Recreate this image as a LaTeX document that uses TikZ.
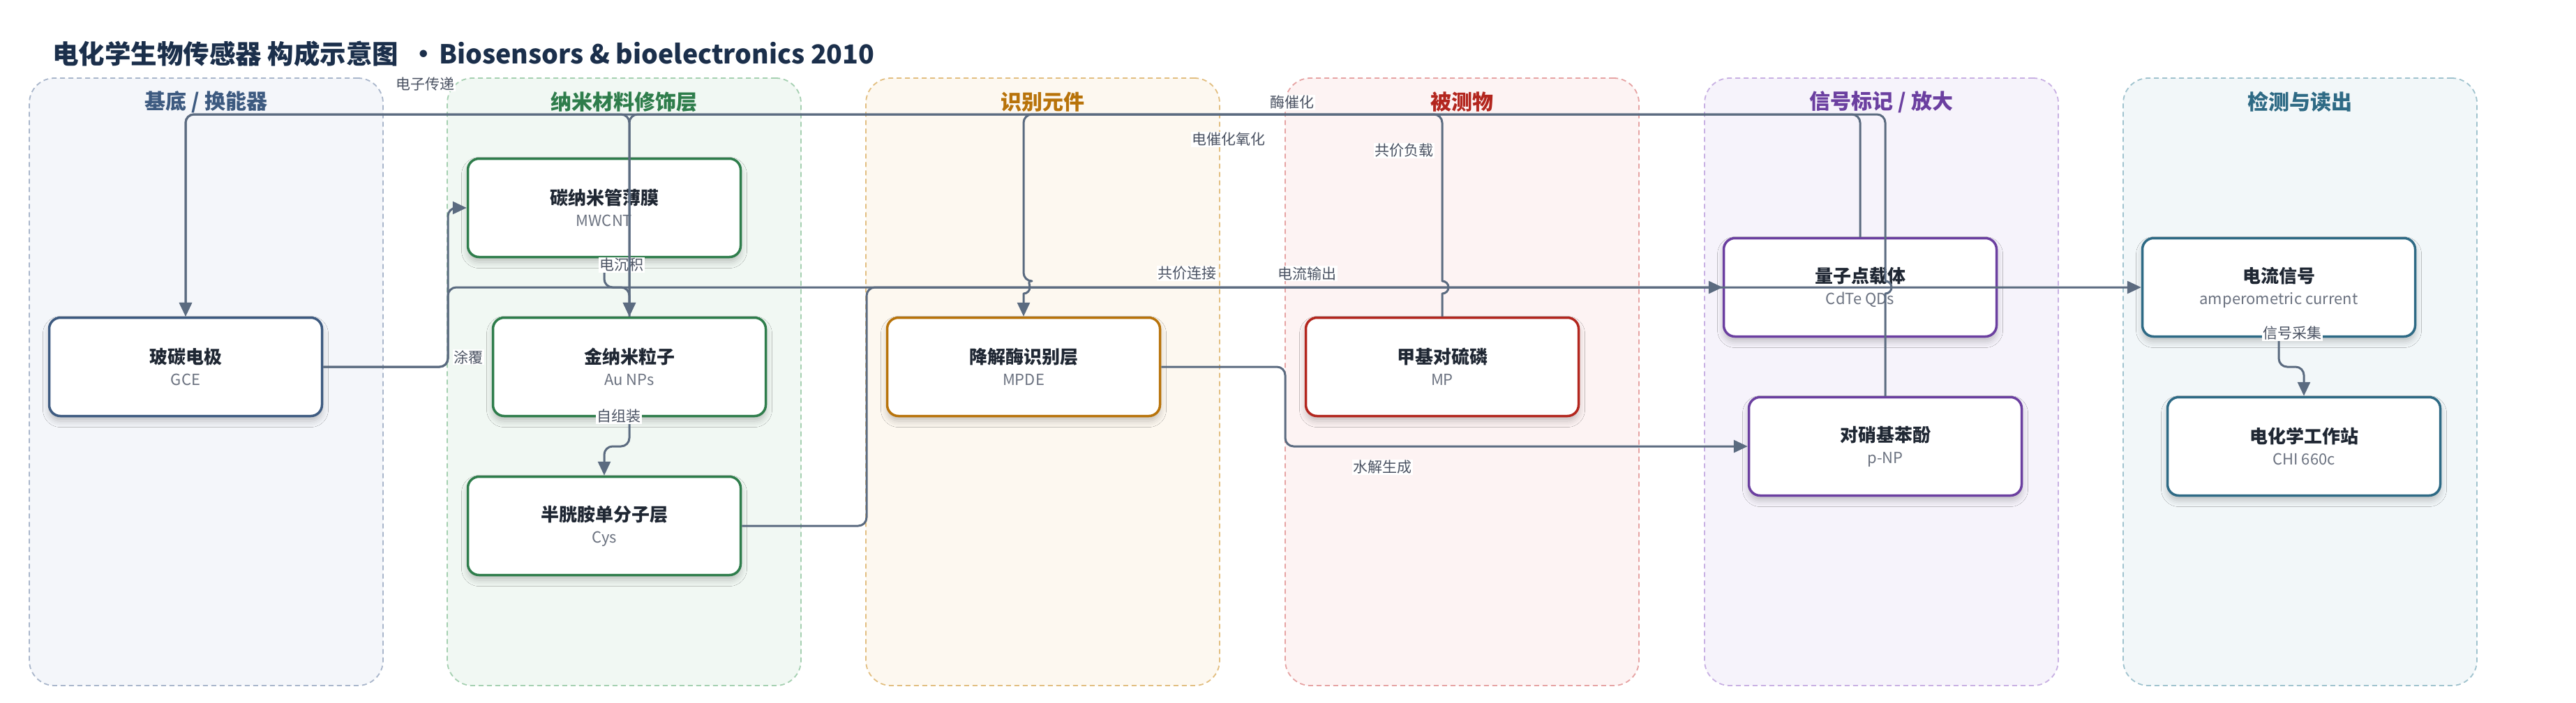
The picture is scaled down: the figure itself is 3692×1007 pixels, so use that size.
\documentclass[tikz,border=0pt]{standalone}
\usepackage{fontspec}
\setmainfont{Noto Sans CJK SC}
\usetikzlibrary{arrows.meta,shadows.blur}
\definecolor{edgec}{HTML}{5B6B80}
\definecolor{titlec}{HTML}{1B2F4B}
\definecolor{ttext}{HTML}{1F2733}
\definecolor{stext}{HTML}{6B7280}
\definecolor{ltext}{HTML}{4A5262}
\definecolor{c1}{HTML}{3D5A80}\definecolor{f1}{HTML}{F4F6FA}\definecolor{b1}{HTML}{A9B6CB}
\definecolor{c2}{HTML}{2E7D4B}\definecolor{f2}{HTML}{F1F8F3}\definecolor{b2}{HTML}{A5D0B1}
\definecolor{c3}{HTML}{B8730A}\definecolor{f3}{HTML}{FDF8F0}\definecolor{b3}{HTML}{E2BE80}
\definecolor{c4}{HTML}{B3261E}\definecolor{f4}{HTML}{FDF3F3}\definecolor{b4}{HTML}{E6A3A3}
\definecolor{c5}{HTML}{6B3FA0}\definecolor{f5}{HTML}{F6F3FB}\definecolor{b5}{HTML}{C8B0E3}
\definecolor{c6}{HTML}{2E6A85}\definecolor{f6}{HTML}{F2F7F9}\definecolor{b6}{HTML}{A0C3CE}
\newcommand\nt[2]{{\fontsize{26}{31}\selectfont\bfseries\color{ttext}#1}\\{\color{stext}#2}}
\begin{document}
\begin{tikzpicture}[x=1pt,y=-1pt,
  lanebox/.style 2 args={draw=#1, fill=#2, dash pattern=on 7pt off 5pt, line width=1.8pt,
    rounded corners=36pt, minimum width=507pt, minimum height=871pt, inner sep=0pt},
  lanetitle/.style={font=\fontsize{30}{30}\selectfont\bfseries, text=#1, inner sep=0pt},
  box/.style={draw=#1, fill=white, line width=3.5pt, rounded corners=16pt,
    minimum width=391pt, minimum height=141pt, align=center, inner sep=0pt,
    font=\fontsize{22}{31}\selectfont,
    blur shadow={shadow xshift=0pt, shadow yshift=-7pt, shadow blur radius=9pt, shadow opacity=22}},
  edge/.style={draw=edgec, line width=3pt, line join=round, -{Triangle[length=20pt,width=18pt]}},
  elabel/.style={fill=white, inner sep=1.5pt, font=\fontsize{21}{21}\selectfont, text=ltext}]
\useasboundingbox (0,0) rectangle (3692,1007);
\fill[white] (0,0) rectangle (3692,1007);

\node[anchor=west, font=\fontsize{37.5}{38}\selectfont\bfseries, text=titlec, inner sep=0pt] (title) at (75,77)
  {电化学生物传感器 构成示意图\hspace{0.45em}•\hspace{0.1em}Biosensors \& bioelectronics 2010};

% lanes
\node[lanebox={b1}{f1}] (lane1) at (295.5,547.5) {};
\node[lanebox={b2}{f2}] (lane2) at (894.5,547.5) {};
\node[lanebox={b3}{f3}] (lane3) at (1494.5,547.5) {};
\node[lanebox={b4}{f4}] (lane4) at (2095.5,547.5) {};
\node[lanebox={b5}{f5}] (lane5) at (2696.5,547.5) {};
\node[lanebox={b6}{f6}] (lane6) at (3296.5,547.5) {};
\node[lanetitle=c1] (lt1) at (295.5,146) {基底 / 换能器};
\node[lanetitle=c2] (lt2) at (894.5,146) {纳米材料修饰层};
\node[lanetitle=c3] (lt3) at (1494.5,146) {识别元件};
\node[lanetitle=c4] (lt4) at (2095.5,146) {被测物};
\node[lanetitle=c5] (lt5) at (2696.5,146) {信号标记 / 放大};
\node[lanetitle=c6] (lt6) at (3296.5,146) {检测与读出};

% nodes
\node[box=c1] (gce) at (266,526) {\nt{玻碳电极}{GCE}};
\node[box=c2] (mwcnt) at (866,298) {\nt{碳纳米管薄膜}{MWCNT}};
\node[box=c2] (aunp) at (902,526) {\nt{金纳米粒子}{Au NPs}};
\node[box=c2] (cys) at (866,754) {\nt{半胱胺单分子层}{Cys}};
\node[box=c3] (mpde) at (1467,526) {\nt{降解酶识别层}{MPDE}};
\node[box=c4] (mp) at (2067,526) {\nt{甲基对硫磷}{MP}};
\node[box=c5] (qd) at (2666,412) {\nt{量子点载体}{CdTe QDs}};
\node[box=c5] (pnp) at (2702,640) {\nt{对硝基苯酚}{p-NP}};
\node[box=c6] (cur) at (3266,412) {\nt{电流信号}{amperometric current}};
\node[box=c6] (chi) at (3302,640) {\nt{电化学工作站}{CHI 660c}};

% short edges
\draw[edge, rounded corners=12pt] (gce.east) -- (642,526) -- (642,298) -- (mwcnt.west);
\draw[edge, rounded corners=12pt] (gce.east) -- (642,526) -- (642,412) -- (cur.west);
\draw[edge, rounded corners=12pt] (mwcnt.south) -- (866,412) -- (902,412) -- (aunp.north);
\draw[edge, rounded corners=12pt] (aunp.south) -- (902,640) -- (866,640) -- (cys.north);
\draw[edge, rounded corners=12pt] (cys.east) -- (1242,754) -- (1242,412) -- (qd.west);
\draw[edge, rounded corners=12pt] (mpde.east) -- (1842,526) -- (1842,640) -- (pnp.west);
\draw[edge, rounded corners=12pt] (cur.south) -- (3266,526) -- (3302,526) -- (chi.north);

% labels
\node[elabel] (la1) at (671,512) {涂覆};
\node[elabel] (la2) at (891,380) {电沉积};
\node[elabel] (la3) at (887,597) {自组装};
\node[elabel] (la4) at (1701,392) {共价连接};
\node[elabel] (la5) at (1873,392) {电流输出};
\node[elabel] (la6) at (1981,670) {水解生成};
\node[elabel] (la7) at (3285,478) {信号采集};
\node[elabel] (la8) at (609,120) {电子传递};
\node[elabel] (la9) at (1852,147) {酶催化};
\node[elabel] (la10) at (1761,200) {电催化氧化};
\node[elabel] (la11) at (2012,216) {共价负载};

% long edges along the top
\draw[edge, rounded corners=12pt] (aunp.north) -- (902,164) -- (266,164) -- (gce.north);
\draw[edge, rounded corners=12pt] (qd.north) -- (2666,164) -- (902,164) -- (aunp.north);
\draw[edge] (pnp.north) -- (2702,421) arc[start angle=90,end angle=-90,radius=9]
  [rounded corners=12pt] -- (2702,164) -- (266,164) -- (gce.north);
\draw[edge] (mp.north) -- (2067,421) arc[start angle=90,end angle=-90,radius=9]
  [rounded corners=12pt] -- (2067,164) -- (1467,164) -- (1467,403)
  [sharp corners] arc[start angle=-90,end angle=90,radius=9] -- (mpde.north);
\end{tikzpicture}
\end{document}
